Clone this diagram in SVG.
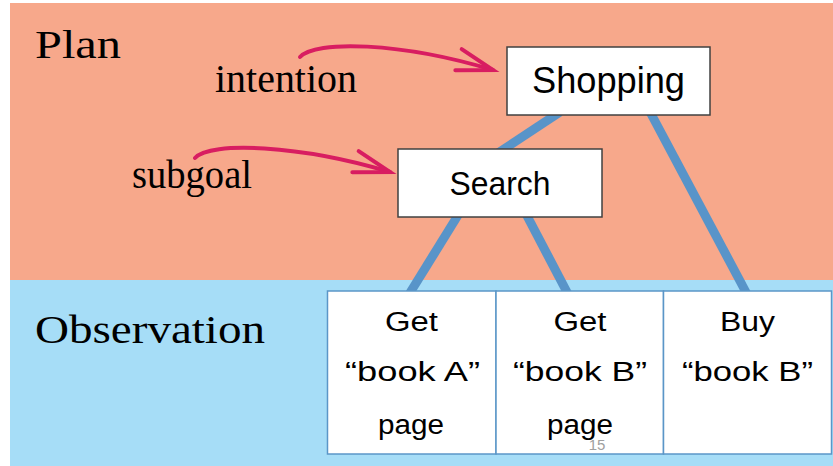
<svg xmlns="http://www.w3.org/2000/svg" width="833" height="466" viewBox="0 0 833 466">
<style>
.serif{font-family:"Liberation Serif","Times New Roman",serif;font-size:40px;fill:#000}
.sans{font-family:"Liberation Sans",Arial,sans-serif;fill:#000;text-anchor:middle}
.plan-box{fill:#fff;stroke:#404040;stroke-width:1.5}
.obs-box{fill:#fff;stroke:#5b96c8;stroke-width:1.5}
.edge{stroke:#5894c9;stroke-width:9;fill:none}
.pointer{stroke:#d81d61;stroke-width:4;fill:none;stroke-linecap:round}
</style>
<defs>
<marker id="chev" markerUnits="userSpaceOnUse" orient="auto" markerWidth="60" markerHeight="40" refX="40" refY="20" viewBox="0 0 60 40" overflow="visible">
<path d="M4,9 L40,20 L4,31" fill="none" stroke="#d81d61" stroke-width="4" stroke-linecap="round" stroke-linejoin="miter"/>
</marker>
</defs>
<rect x="10" y="3" width="823" height="278" fill="#f7a88b"/>
<rect x="10" y="280" width="823" height="186" fill="#a6ddf7"/>
<text class="serif" x="35" y="58" textLength="86" lengthAdjust="spacingAndGlyphs">Plan</text>
<text class="serif" x="35" y="343" textLength="230" lengthAdjust="spacingAndGlyphs">Observation</text>
<text class="serif" x="215" y="92" textLength="142" lengthAdjust="spacingAndGlyphs">intention</text>
<text class="serif" x="132" y="188" textLength="120" lengthAdjust="spacingAndGlyphs">subgoal</text>
<g id="pointers">
<path class="pointer" d="M300,57 C315,40 400,42 493,70" marker-end="url(#chev)"/>
<path class="pointer" d="M195,158 C210,141 300,145 390,172" marker-end="url(#chev)"/>
</g>
<g id="connectors">
<line class="edge" x1="560" y1="112" x2="498" y2="153"/>
<line class="edge" x1="649" y1="110" x2="748" y2="296"/>
<line class="edge" x1="460" y1="212" x2="408" y2="296"/>
<line class="edge" x1="525" y1="212" x2="569" y2="296"/>
</g>
<g id="shopping">
<rect class="plan-box" x="507" y="47" width="203" height="68"/>
<text class="sans" x="608.5" y="93" font-size="37" textLength="153" lengthAdjust="spacingAndGlyphs">Shopping</text>
</g>
<g id="search">
<rect class="plan-box" x="398" y="149" width="204" height="68"/>
<text class="sans" x="500" y="195" font-size="33" textLength="101" lengthAdjust="spacingAndGlyphs">Search</text>
</g>
<g id="get-book-a">
<rect class="obs-box" x="327.5" y="291" width="168.5" height="163"/>
<text class="sans" x="411.5" y="331" font-size="27" textLength="53" lengthAdjust="spacingAndGlyphs">Get</text>
<text class="sans" x="412.5" y="381" font-size="27" textLength="135" lengthAdjust="spacingAndGlyphs">“book A”</text>
<text class="sans" x="411" y="434" font-size="27" textLength="66" lengthAdjust="spacingAndGlyphs">page</text>
</g>
<g id="get-book-b">
<rect class="obs-box" x="496" y="291" width="167.5" height="163"/>
<text class="sans" x="580" y="331" font-size="27" textLength="53" lengthAdjust="spacingAndGlyphs">Get</text>
<text class="sans" x="580" y="381" font-size="27" textLength="134" lengthAdjust="spacingAndGlyphs">“book B”</text>
<text class="sans" x="580" y="434" font-size="27" textLength="66" lengthAdjust="spacingAndGlyphs">page</text>
</g>
<g id="buy-book-b">
<rect class="obs-box" x="663.5" y="291" width="168" height="163"/>
<text class="sans" x="747.5" y="331" font-size="27" textLength="55" lengthAdjust="spacingAndGlyphs">Buy</text>
<text class="sans" x="747.5" y="381" font-size="27" textLength="131" lengthAdjust="spacingAndGlyphs">“book B”</text>
</g>
<text x="597" y="450" font-family="'Liberation Sans',Arial,sans-serif" font-size="15" fill="#a0a0a0" text-anchor="middle">15</text>
</svg>
